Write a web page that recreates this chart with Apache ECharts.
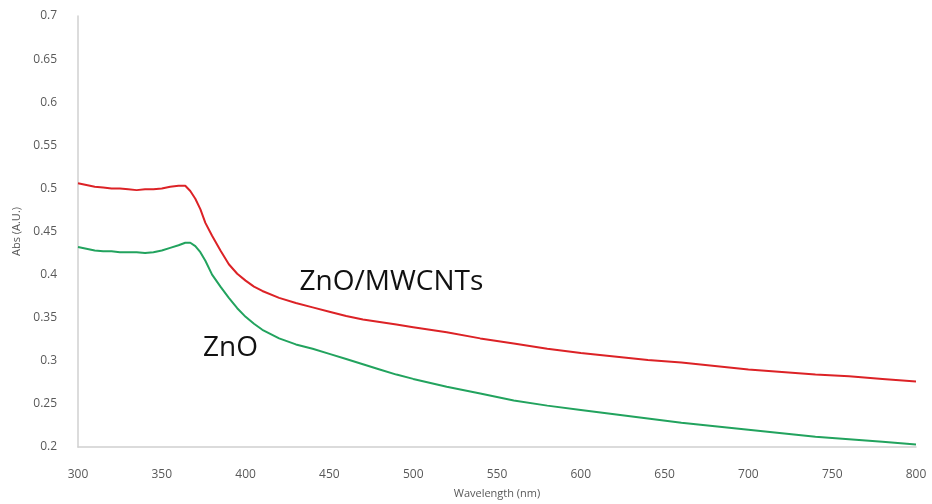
<!DOCTYPE html>
<html>
<head>
<meta charset="utf-8">
<script src="https://cdn.jsdelivr.net/npm/echarts@6/dist/echarts.min.js"></script>
<style>html,body{margin:0;padding:0;background:#fff;}#c{width:932px;height:504px;}</style>
</head>
<body>
<div id="c"></div>
<script>
const wavelength = [300,305,310,315,320,325,330,335,340,345,350,355,360,364,367,370,373,376,380,385,390,395,400,405,410,420,430,440,450,460,470,480,490,500,520,540,560,580,600,620,640,660,680,700,720,740,760,780,800];
const absMWCNT = [0.506,0.504,0.502,0.501,0.500,0.500,0.499,0.498,0.499,0.499,0.500,0.502,0.503,0.503,0.497,0.488,0.476,0.460,0.445,0.428,0.412,0.401,0.393,0.386,0.381,0.373,0.367,0.362,0.357,0.352,0.348,0.345,0.342,0.339,0.333,0.326,0.320,0.314,0.309,0.305,0.301,0.298,0.294,0.290,0.287,0.284,0.282,0.279,0.276];
const absZnO = [0.432,0.430,0.428,0.427,0.427,0.426,0.426,0.426,0.425,0.426,0.428,0.431,0.434,0.437,0.437,0.433,0.426,0.416,0.400,0.386,0.373,0.361,0.351,0.343,0.336,0.326,0.319,0.314,0.308,0.302,0.296,0.290,0.284,0.279,0.270,0.262,0.254,0.248,0.243,0.238,0.233,0.228,0.224,0.220,0.216,0.212,0.209,0.206,0.203];
const seriesNames = ['ZnO/MWCNTs','ZnO'];
const labelPosMWCNT = [487, 0.391];
const labelPosZnO = [391, 0.315];
const xTitle = 'Wavelength (nm)';
const yTitle = 'Abs (A.U.)';

const chart = echarts.init(document.getElementById('c'), null, {renderer:'canvas'});
const axisTxt = {color:'#595959', fontFamily:'Open Sans', fontSize:12};
function mk(name, color, ys, pos){
  return {
    name: name, type:'line', showSymbol:false, animation:false,
    data: wavelength.map((w,i)=>[w, ys[i]]),
    lineStyle:{color:color, width:2}, itemStyle:{color:color},
    markPoint:{symbol:'circle', symbolSize:0, silent:true, animation:false,
      data:[{coord:pos, label:{show:true, position:'inside', formatter:name, color:'#111', fontFamily:'Open Sans', fontSize:28}}]}
  };
}
chart.setOption({
  animation:false,
  grid:{left:78, right:16, top:16, bottom:56.5},
  xAxis:{type:'value', min:300, max:800, interval:50,
    axisLine:{show:true, lineStyle:{color:'#d0d0d0', width:1.5}}, axisTick:{show:false}, splitLine:{show:false},
    axisLabel:Object.assign({margin:22}, axisTxt),
    name:xTitle, nameLocation:'middle', nameGap:41, nameTextStyle:{color:'#595959', fontFamily:'Open Sans', fontSize:11}},
  yAxis:{type:'value', min:0.2, max:0.7, interval:0.05,
    axisLine:{show:true, lineStyle:{color:'#d0d0d0', width:1.5}}, axisTick:{show:false}, splitLine:{show:false},
    axisLabel:Object.assign({margin:21, formatter:v=>String(+v.toFixed(2))}, axisTxt),
    name:yTitle, nameLocation:'middle', nameGap:54, nameTextStyle:{color:'#595959', fontFamily:'Open Sans', fontSize:11}},
  series:[mk(seriesNames[0], '#dc2226', absMWCNT, labelPosMWCNT), mk(seriesNames[1], '#22a35e', absZnO, labelPosZnO)]
});
</script>
</body>
</html>
